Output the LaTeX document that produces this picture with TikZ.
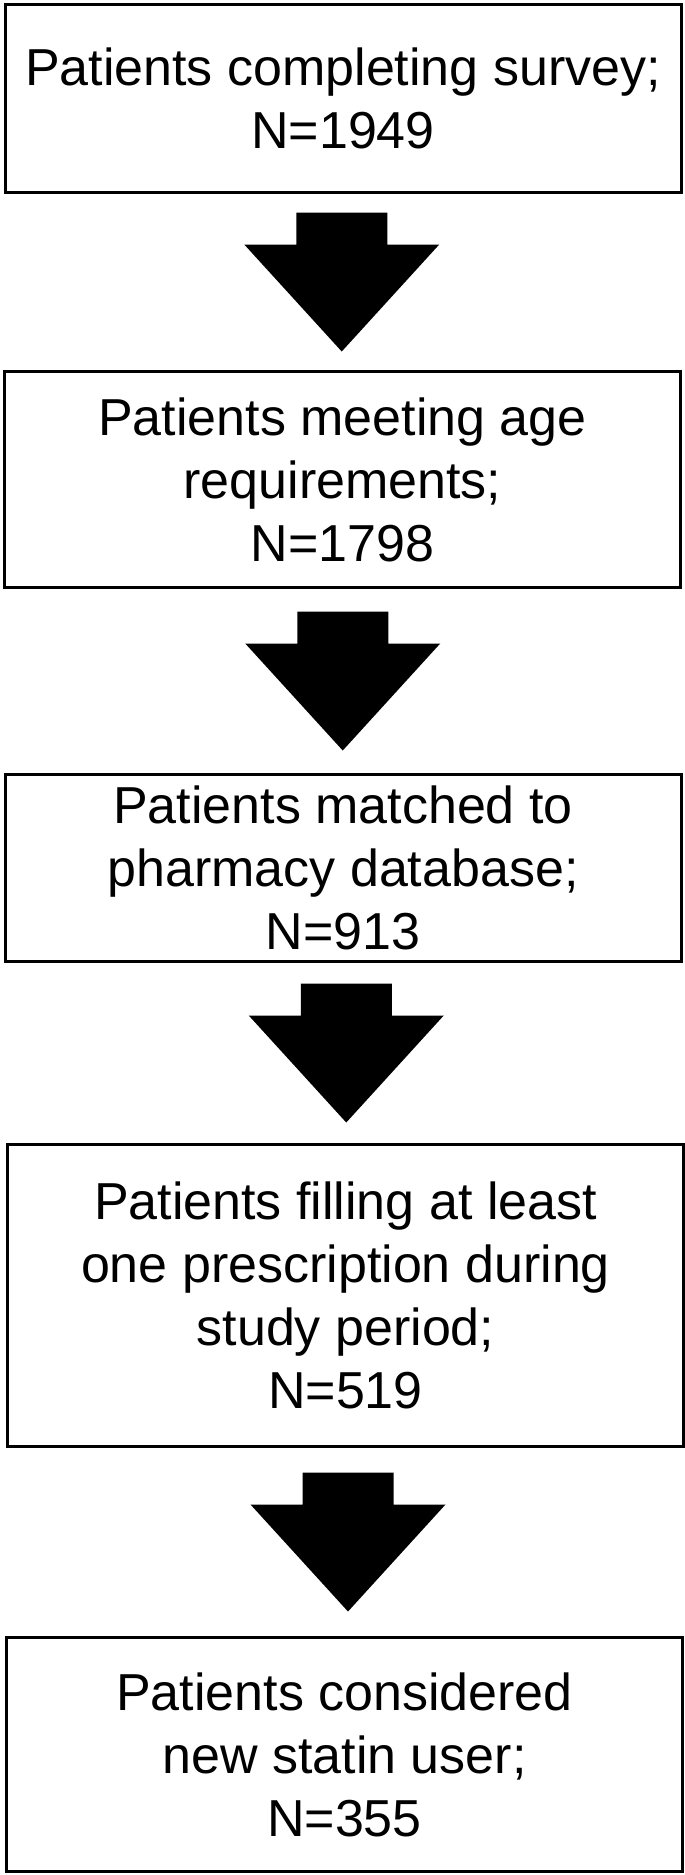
\documentclass[tikz,border=0pt]{standalone}
\usepackage{fontspec}
\setmainfont{Liberation Sans}
\usetikzlibrary{calc}
\tikzset{
	stage/.style={draw, line width=1.5pt, minimum width=338pt, align=center, inner sep=0pt, font=\fontsize{26}{31.5}\selectfont}
}
\tikzset{
	bigarrow/.pic={
	\fill (-45.5,-69.5) -- (45.5,-69.5) -- (45.5,-37.5) -- (97.5,-37.5) -- (0,69.5) -- (-97.5,-37.5) -- (-45.5,-37.5) -- cycle;
	}
}

\begin{document}
\begin{tikzpicture}[x=0.5pt,y=-0.5pt]
\useasboundingbox (0,0) rectangle (685,1875);
%boxes
\node[stage, minimum height=94pt] (survey) at (343,98.5) {Patients completing survey;\\N=1949};
\node[stage, minimum height=108pt] (age) at (342.5,479.5) {Patients meeting age\\requirements;\\N=1798};
\node[stage, minimum height=93.5pt] (matched) at (343,868) {Patients matched to\\pharmacy database;\\N=913};
\node[stage, minimum height=151pt] (filled) at (345.5,1295.5) {Patients filling at least\\one prescription during\\study period;\\N=519};
\node[stage, minimum height=117pt] (statin) at (344.5,1754.5) {Patients considered\\new statin user;\\N=355};

%arrows
\foreach \a/\b/\dx in {survey/age/-1,age/matched/0,matched/filled/2,filled/statin/3}
	\pic at ($(\a.south)!0.5!(\b.north)+(\dx,0)$) {bigarrow};
\end{tikzpicture}
\end{document}
